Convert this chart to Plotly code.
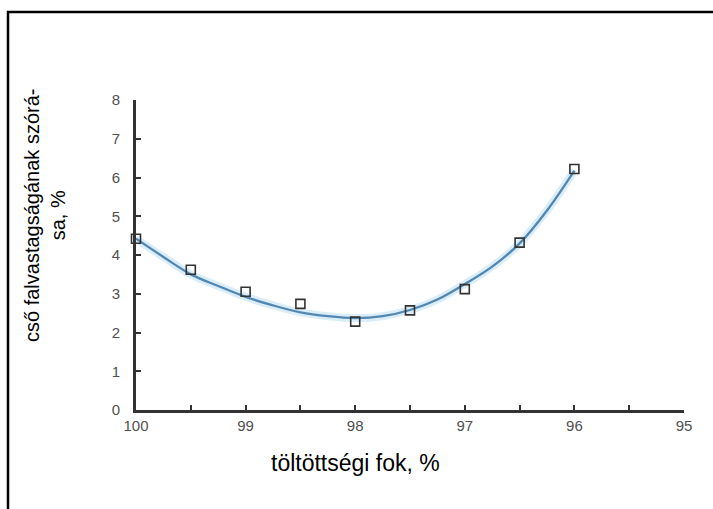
import plotly.graph_objects as go

# measured points
x_pts = [100, 99.5, 99, 98.5, 98, 97.5, 97, 96.5, 96]
y_pts = [4.42, 3.62, 3.05, 2.74, 2.28, 2.57, 3.12, 4.32, 6.22]

# fitted curve
x_fit = [100, 99.75, 99.5, 99.25, 99, 98.75, 98.5, 98.25, 98, 97.75, 97.5, 97.25, 97, 96.75, 96.5, 96.25, 96]
y_fit = [4.42, 3.95, 3.5, 3.2, 2.92, 2.7, 2.52, 2.42, 2.37, 2.42, 2.58, 2.85, 3.25, 3.7, 4.3, 5.15, 6.18]

x_tickvals = [100, 99.5, 99, 98.5, 98, 97.5, 97, 96.5, 96, 95.5, 95]
x_ticktext = ["100", "", "99", "", "98", "", "97", "", "96", "", "95"]
y_tickvals = [0, 1, 2, 3, 4, 5, 6, 7, 8]

x_title = "töltöttségi fok, %"
y_title = "cső falvastagságának szórá-<br>sa, %"

W, H = 713, 509
L, R, T, B = 136, 29, 100, 99
pw, ph = W - L - R, H - T - B

def px(p):
    return (p - L) / pw

def py(p):
    return (H - B - p) / ph

fig = go.Figure()
# soft glow behind the curve
fig.add_trace(go.Scatter(x=x_fit, y=y_fit, mode="lines", line=dict(color="rgba(175,215,240,0.45)", width=8, shape="spline"),
                         hoverinfo="skip", showlegend=False, cliponaxis=False))
fig.add_trace(go.Scatter(x=x_fit, y=y_fit, mode="lines", line=dict(color="#5187b0", width=2.3, shape="spline"),
                         showlegend=False, cliponaxis=False))
fig.add_trace(go.Scatter(x=x_pts, y=y_pts, mode="markers",
                         marker=dict(symbol="square-open", size=9, color="#333333", line=dict(width=1.6)),
                         showlegend=False, cliponaxis=False))

fig.update_layout(
    width=W, height=H,
    margin=dict(l=L, r=R, t=T, b=B),
    paper_bgcolor="white", plot_bgcolor="white",
    font=dict(family="Arial, Liberation Sans, sans-serif", color="#000"),
    xaxis=dict(range=[100, 95], autorange=False, tickvals=x_tickvals, ticktext=x_ticktext,
               ticks="inside", ticklen=5, tickwidth=1.5, tickcolor="#333",
               showline=True, linecolor="#333", linewidth=3, showgrid=False, zeroline=False,
               tickfont=dict(size=15, color="#505050")),
    yaxis=dict(range=[0, 8], autorange=False, tickvals=y_tickvals,
               ticks="inside", ticklen=5, tickwidth=1.5, tickcolor="#333",
               showline=True, linecolor="#333", linewidth=3, showgrid=False, zeroline=False,
               ticklabelstandoff=10,
               tickfont=dict(size=15, color="#505050")),
    shapes=[dict(type="rect", xref="paper", yref="paper",
                 x0=px(8), x1=px(760), y0=py(560), y1=py(12),
                 line=dict(color="black", width=2.5), fillcolor="rgba(0,0,0,0)", layer="above")],
    annotations=[
        dict(text=x_title, xref="paper", yref="paper", x=px(355), y=py(463), showarrow=False,
             font=dict(size=23, color="#000"), xanchor="center", yanchor="middle"),
        dict(text=y_title, xref="paper", yref="paper", x=px(45), y=py(216), showarrow=False,
             textangle=-90, font=dict(size=20, color="#000"), xanchor="center", yanchor="middle"),
    ],
)

fig.write_html("out.html", config={"displayModeBar": False},
               post_script="document.body.style.margin='0';document.body.style.overflow='hidden';")
